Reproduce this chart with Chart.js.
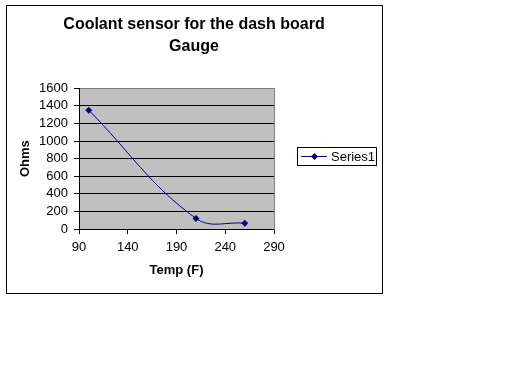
<!DOCTYPE html>
<html>
<head>
<meta charset="utf-8">
<script src="https://cdn.jsdelivr.net/npm/chart.js@4/dist/chart.umd.min.js"></script>
<style>
  html, body { margin: 0; padding: 0; background: #fff; }
  #wrap { width: 512px; height: 384px; }
</style>
</head>
<body>
<div id="wrap"><canvas id="c" width="512" height="384"></canvas></div>
<script>
// ---- data ----
const temps = [100, 210, 260];
const ohms = [1350, 120, 65];
const seriesName = 'Series1';
const titleLines = ['Coolant sensor for the dash board', 'Gauge'];
const xTitle = 'Temp (F)';
const yTitle = 'Ohms';
const xTicks = { min: 90, max: 290, step: 50 };
const yTicks = { min: 0, max: 1600, step: 200 };

const FONT = '"Liberation Sans", Arial, sans-serif';
const NAVY = '#000080';

const frame = {
  id: 'frame',
  beforeDraw(chart) {
    const { ctx, chartArea: a } = chart;
    ctx.save();
    ctx.fillStyle = '#fff';
    ctx.fillRect(0, 0, chart.width, chart.height);
    ctx.fillStyle = '#C0C0C0';
    ctx.fillRect(a.left, a.top, a.right - a.left, a.bottom - a.top);
    ctx.strokeStyle = '#000';
    ctx.lineWidth = 1;
    ctx.strokeRect(6.5, 5.5, 376, 288);
    ctx.restore();
  },
  afterDraw(chart) {
    // legend
    const { ctx } = chart;
    const ds = chart.data.datasets[0];
    ctx.save();
    ctx.fillStyle = '#fff';
    ctx.fillRect(297.5, 147.5, 79, 18);
    ctx.strokeStyle = '#000';
    ctx.lineWidth = 1;
    ctx.strokeRect(297.5, 147.5, 79, 18);
    const cy = 156.5;
    ctx.strokeStyle = ds.borderColor;
    ctx.beginPath();
    ctx.moveTo(301, cy);
    ctx.lineTo(327, cy);
    ctx.stroke();
    ctx.fillStyle = ds.pointBackgroundColor;
    ctx.beginPath();
    ctx.moveTo(314.5, cy - 3.5);
    ctx.lineTo(318, cy);
    ctx.lineTo(314.5, cy + 3.5);
    ctx.lineTo(311, cy);
    ctx.closePath();
    ctx.fill();
    ctx.fillStyle = '#000';
    ctx.font = '13px ' + FONT;
    ctx.textBaseline = 'middle';
    ctx.textAlign = 'left';
    ctx.fillText(ds.label, 331, cy + 0.5);
    ctx.restore();
  }
};

new Chart(document.getElementById('c'), {
  type: 'line',
  data: {
    datasets: [{
      label: seriesName,
      data: temps.map((t, i) => ({ x: t, y: ohms[i] })),
      borderColor: NAVY,
      borderWidth: 1,
      backgroundColor: NAVY,
      pointBackgroundColor: NAVY,
      pointBorderColor: NAVY,
      pointStyle: 'rectRot',
      pointRadius: 3.5,
      pointBorderWidth: 0,
      tension: 0.4,
      fill: false
    }]
  },
  options: {
    responsive: false,
    animation: false,
    devicePixelRatio: 1,
    layout: { padding: { left: 6, right: 130, top: 0, bottom: 85 } },
    plugins: {
      legend: { display: false },
      tooltip: { enabled: false },
      title: {
        display: true,
        text: titleLines,
        color: '#000',
        font: { family: FONT, size: 16, weight: 'bold', lineHeight: 1.35 },
        padding: { top: 14, bottom: 31 }
      }
    },
    scales: {
      x: {
        type: 'linear',
        position: 'bottom',
        min: xTicks.min, max: xTicks.max,
        afterFit: s => { s.height = 70; },
        ticks: { stepSize: xTicks.step, autoSkip: false, color: '#000', font: { family: FONT, size: 13 }, padding: 6, maxRotation: 0, callback: v => String(v) },
        grid: { drawOnChartArea: false, drawTicks: true, tickLength: 5, tickColor: '#000' },
        border: { display: true, color: '#000', width: 1 },
        title: { display: true, text: xTitle, color: '#000', font: { family: FONT, size: 13, weight: 'bold' }, padding: { top: 0, bottom: 21 } }
      },
      y: {
        type: 'linear',
        position: 'left',
        min: yTicks.min, max: yTicks.max,
        afterFit: s => { s.width = 73; },
        ticks: { stepSize: yTicks.step, autoSkip: false, color: '#000', font: { family: FONT, size: 13 }, padding: 6, callback: v => String(v) },
        grid: {
          color: c => (c.tick && c.tick.value === yTicks.max) ? '#808080' : '#000',
          lineWidth: 1, drawTicks: true, tickLength: 5, tickColor: '#000'
        },
        border: { display: true, color: '#000', width: 1 },
        title: { display: true, text: yTitle, color: '#000', font: { family: FONT, size: 13, weight: 'bold' }, padding: { top: 12, bottom: 0 } }
      },
      r: {
        type: 'linear',
        position: 'right',
        display: true,
        afterFit: s => { s.width = 108; },
        ticks: { display: false },
        grid: { drawOnChartArea: false, drawTicks: false },
        border: { display: true, color: '#808080', width: 1 }
      }
    }
  },
  plugins: [frame]
});
</script>
</body>
</html>
